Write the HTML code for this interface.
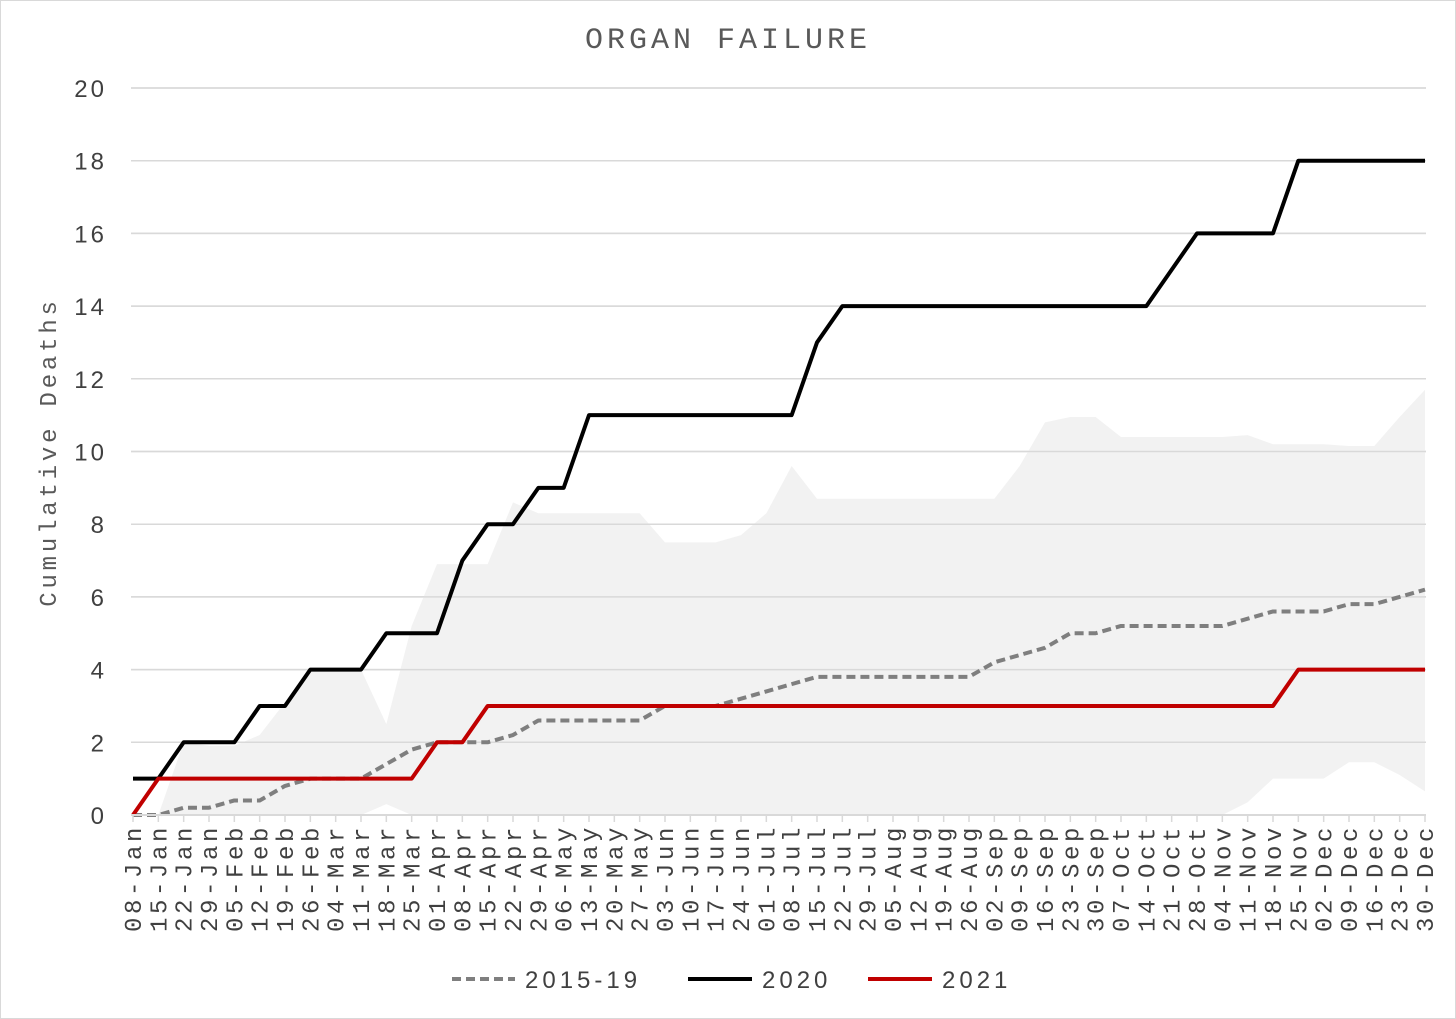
<!DOCTYPE html>
<html><head><meta charset="utf-8"><style>
html,body{margin:0;padding:0;background:#fff;}
svg{display:block;}
text{fill:#404040;}
</style></head><body>
<svg id="chart" width="1456" height="1019" viewBox="0 0 1456 1019" xmlns="http://www.w3.org/2000/svg">
<rect x="0.5" y="0.5" width="1455" height="1018" fill="#fff" stroke="#d9d9d9"/>
<text x="728" y="48" text-anchor="middle" font-family="Liberation Mono, monospace" font-size="30" letter-spacing="4" style="fill:#595959">ORGAN FAILURE</text>
<text transform="translate(56,452) rotate(-90)" text-anchor="middle" font-family="Liberation Mono, monospace" font-size="24" letter-spacing="3.8" style="fill:#595959">Cumulative Deaths</text>
<g id="grid"></g><g id="band"></g><g id="series"></g><g id="xaxis"></g><g id="yaxis"></g>
<g>
<g><line x1="452" y1="979" x2="515" y2="979" stroke="#7f7f7f" stroke-width="4" stroke-dasharray="9,5"/><text x="525" y="988" font-family="Liberation Sans, sans-serif" font-size="24" letter-spacing="4">2015-19</text></g>
<g><line x1="688" y1="979" x2="752" y2="979" stroke="#000" stroke-width="4"/><text x="762" y="988" font-family="Liberation Sans, sans-serif" font-size="24" letter-spacing="4">2020</text></g>
<g><line x1="868" y1="979" x2="932" y2="979" stroke="#c00000" stroke-width="4"/><text x="942" y="988" font-family="Liberation Sans, sans-serif" font-size="24" letter-spacing="4">2021</text></g>
</g>
</svg>
<script>
const weeks = ["08-Jan","15-Jan","22-Jan","29-Jan","05-Feb","12-Feb","19-Feb","26-Feb","04-Mar","11-Mar","18-Mar","25-Mar","01-Apr","08-Apr","15-Apr","22-Apr","29-Apr","06-May","13-May","20-May","27-May","03-Jun","10-Jun","17-Jun","24-Jun","01-Jul","08-Jul","15-Jul","22-Jul","29-Jul","05-Aug","12-Aug","19-Aug","26-Aug","02-Sep","09-Sep","16-Sep","23-Sep","30-Sep","07-Oct","14-Oct","21-Oct","28-Oct","04-Nov","11-Nov","18-Nov","25-Nov","02-Dec","09-Dec","16-Dec","23-Dec","30-Dec"];
const yTicks = [0,2,4,6,8,10,12,14,16,18,20];
const s2020 = [1,1,2,2,2,3,3,4,4,4,5,5,5,7,8,8,9,9,11,11,11,11,11,11,11,11,11,13,14,14,14,14,14,14,14,14,14,14,14,14,14,15,16,16,16,16,18,18,18,18,18,18];
const s2021 = [0,1,1,1,1,1,1,1,1,1,1,1,2,2,3,3,3,3,3,3,3,3,3,3,3,3,3,3,3,3,3,3,3,3,3,3,3,3,3,3,3,3,3,3,3,3,4,4,4,4,4,4];
const sAvg = [0,0,0.2,0.2,0.4,0.4,0.8,1,1,1,1.4,1.8,2,2,2,2.2,2.6,2.6,2.6,2.6,2.6,3,3,3,3.2,3.4,3.6,3.8,3.8,3.8,3.8,3.8,3.8,3.8,4.2,4.4,4.6,5,5,5.2,5.2,5.2,5.2,5.2,5.4,5.6,5.6,5.6,5.8,5.8,6,6.2];
const bandHigh = [0,0,2,1.9,1.9,2.2,3.1,4,4,4,2.5,5.2,6.9,6.9,6.9,8.6,8.3,8.3,8.3,8.3,8.3,7.5,7.5,7.5,7.7,8.3,9.6,8.7,8.7,8.7,8.7,8.7,8.7,8.7,8.7,9.6,10.8,10.95,10.95,10.4,10.4,10.4,10.4,10.4,10.45,10.2,10.2,10.2,10.15,10.15,10.95,11.7];
const bandLow = [0,0,0,0,0,0,0,0,0,0,0.3,0,0,0,0,0,0,0,0,0,0,0,0,0,0,0,0,0,0,0,0,0,0,0,0,0,0,0,0,0,0,0,0,0,0.35,1,1,1,1.45,1.45,1.1,0.65];

const NS="http://www.w3.org/2000/svg";
const X0=133, X1=1425, Y0=815, Y1=88, YMAX=20;
function xs(i){return X0+(X1-X0)*i/(weeks.length-1);}
function ys(v){return Y0-(Y0-Y1)*v/YMAX;}
function mk(tag,attrs,parent){const e=document.createElementNS(NS,tag);for(const k in attrs)e.setAttribute(k,attrs[k]);parent.appendChild(e);return e;}
const grid=document.getElementById('grid'),yaxis=document.getElementById('yaxis'),xaxis=document.getElementById('xaxis'),band=document.getElementById('band'),series=document.getElementById('series');

yTicks.forEach(t=>{
  const l=mk('line',{x1:131,x2:1426,y1:ys(t),y2:ys(t),stroke:'#d9d9d9','stroke-width':1.5},grid);
  
  
  const tx=mk('text',{x:107,y:ys(t)+9,'text-anchor':'end','font-family':'Liberation Sans, sans-serif','font-size':24,'letter-spacing':3},yaxis);
  tx.textContent=t;
  
  
});

// band
let pts=[];
bandHigh.forEach((v,i)=>pts.push(xs(i)+','+ys(v)));
for(let i=bandLow.length-1;i>=0;i--)pts.push(xs(i)+','+ys(bandLow[i]));
const bp=mk('polygon',{points:pts.join(' '),fill:'#f2f2f2'},band);


// redraw gridlines over band faintly
yTicks.forEach(t=>{mk('line',{x1:131,x2:1426,y1:ys(t),y2:ys(t),stroke:'#d9d9d9','stroke-width':1.5},band);});

// x axis
const ax=mk('line',{x1:131,x2:1426,y1:Y0,y2:Y0,stroke:'#d9d9d9','stroke-width':2},xaxis);


weeks.forEach((w,i)=>{
  mk('line',{x1:xs(i),x2:xs(i),y1:Y0,y2:Y0+7,stroke:'#d9d9d9','stroke-width':1.5},xaxis);
  const tx=mk('text',{transform:'translate('+(xs(i)+8)+',824) rotate(-90)','text-anchor':'end','font-family':'Liberation Mono, monospace','font-size':24,'letter-spacing':3.6},xaxis);
  tx.textContent=w;
  
  
});

function line(arr,attrs,name){
  const p=mk('polyline',Object.assign({points:arr.map((v,i)=>xs(i)+','+ys(v)).join(' '),fill:'none','stroke-linejoin':'round'},attrs),series);
  
  
}
line(sAvg,{stroke:'#7f7f7f','stroke-width':4,'stroke-dasharray':'9,5'},'series-2015-19');
line(s2020,{stroke:'#000','stroke-width':4},'series-2020');
line(s2021,{stroke:'#c00000','stroke-width':4},'series-2021');
</script>
</body></html>
